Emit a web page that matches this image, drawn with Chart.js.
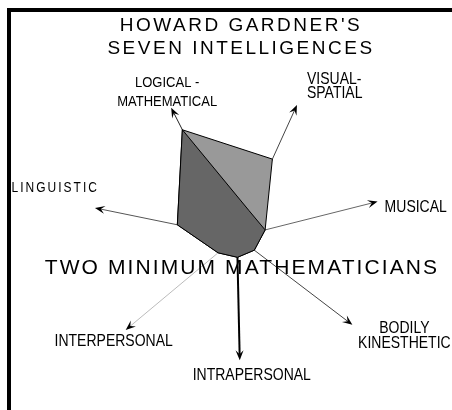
<!DOCTYPE html>
<html>
<head>
<meta charset="utf-8">
<title>Howard Gardner's Seven Intelligences</title>
<script src="https://cdn.jsdelivr.net/npm/chart.js@4.4.1/dist/chart.umd.min.js"></script>
<style>
  html, body { margin: 0; padding: 0; background: #fff; overflow: hidden; }
  .wrap { position: relative; width: 452px; height: 410px; }
  /* heavy frame line along top and left edges */
  .frame { position: absolute; left: 7px; top: 8px; width: 470px; height: 430px;
           border-top: 4px solid #000; border-left: 4px solid #000; pointer-events: none; }
</style>
</head>
<body>
<div class="wrap">
  <canvas id="chart" width="452" height="410"></canvas>
  <div class="frame"></div>
</div>
<script>
// ── Data ──
const intelligences = [
    ['LOGICAL -', 'MATHEMATICAL'],
    ['VISUAL-', 'SPATIAL'],
    ['MUSICAL'],
    ['BODILY', 'KINESTHETIC'],
    ['INTRAPERSONAL'],
    ['INTERPERSONAL'],
    ['LINGUISTIC']
];
const mathematicianA = [8.3, 2.0, 2.0, 1.5, 1.4, 1.7, 4.2];   // dark polygon
const mathematicianB = [8.3, 5.9, 2.0, 1.5, 1.4, 1.7, 4.2];   // light polygon
const titleLines = ["HOWARD GARDNER'S", 'SEVEN INTELLIGENCES'];
const subtitle = 'TWO MINIMUM MATHEMATICIANS';

const FONT = "'Liberation Sans', Arial, sans-serif";

// ── Axis arrows: one per intelligence, drawn under the polygons ──
// reach = fraction of the scale radius the arrow extends to
const axisStyle = [
    { color: '#222', width: 1, reach: 1 },
    { color: '#444', width: 1, reach: 1 },
    { color: '#666', width: 1, reach: 1 },
    { color: '#444', width: 1, reach: 1 },
    { color: '#000', width: 2, reach: 0.85 },
    { color: '#bbb', width: 1, reach: 1 },
    { color: '#555', width: 1, reach: 1 }
];

// label placement relative to the arrow tip (dy = first baseline)
const labelLayout = [
    { dx: -4, dy: -21, align: 'center', gap: 19, size: 13, spacing: 0 },
    { dx: 10, dy: -21, align: 'left',   gap: 14, size: 14, spacing: 0 },
    { dx: 7,  dy: 10,  align: 'left',   gap: 15, size: 14, spacing: 0 },
    { dx: 52, dy: 8,   align: 'center', gap: 15, size: 14, spacing: 0 },
    { dx: 12, dy: 20,  align: 'center', gap: 15, size: 14, spacing: 0 },
    { dx: -12, dy: 16, align: 'center', gap: 15, size: 14, spacing: 0 },
    { dx: 4,  dy: -16, align: 'right',  gap: 15, size: 12, spacing: 2 }
];
const LABEL_STRETCH = 1.15;   // labels in the original are a little taller than wide

function drawArrowHead(ctx, tip, angle) {
    const len = 10, half = 4, notch = 6;
    ctx.save();
    ctx.translate(tip.x, tip.y);
    ctx.rotate(angle);
    ctx.beginPath();
    ctx.moveTo(0, 0);
    ctx.lineTo(-len, -half);
    ctx.lineTo(-notch, 0);
    ctx.lineTo(-len, half);
    ctx.closePath();
    ctx.fillStyle = '#000';
    ctx.fill();
    ctx.restore();
}

const axisArrows = {
    id: 'axisArrows',
    beforeDatasetsDraw(chart) {
        const ctx = chart.ctx;
        const scale = chart.scales.r;
        intelligences.forEach((_, i) => {
            const st = axisStyle[i];
            const tip = scale.getPointPosition(i, scale.drawingArea * st.reach);
            const angle = Math.atan2(tip.y - scale.yCenter, tip.x - scale.xCenter);
            ctx.save();
            ctx.strokeStyle = st.color;
            ctx.lineWidth = st.width;
            ctx.beginPath();
            ctx.moveTo(scale.xCenter, scale.yCenter);
            ctx.lineTo(tip.x - Math.cos(angle) * 6, tip.y - Math.sin(angle) * 6);
            ctx.stroke();
            ctx.restore();
            drawArrowHead(ctx, tip, angle);
        });
    },
    afterDraw(chart) {
        const ctx = chart.ctx;
        const scale = chart.scales.r;
        ctx.save();
        ctx.fillStyle = '#000';
        ctx.textBaseline = 'alphabetic';

        // point labels next to each arrow tip
        intelligences.forEach((lines, i) => {
            const lay = labelLayout[i];
            const tip = scale.getPointPosition(i, scale.drawingArea * axisStyle[i].reach);
            ctx.font = `${lay.size}px ${FONT}`;
            ctx.letterSpacing = lay.spacing + 'px';
            ctx.textAlign = lay.align;
            lines.forEach((t, j) => {
                ctx.save();
                ctx.translate(tip.x + lay.dx, tip.y + lay.dy + j * lay.gap);
                ctx.scale(1, LABEL_STRETCH);
                ctx.fillText(t, 0, 0);
                ctx.restore();
            });
        });

        // title
        ctx.textAlign = 'center';
        ctx.font = `19px ${FONT}`;
        ctx.letterSpacing = '2.5px';
        titleLines.forEach((t, j) => ctx.fillText(t, 241, 31 + j * 22.5));

        // subtitle across the middle
        ctx.font = `21px ${FONT}`;
        ctx.letterSpacing = '2.1px';
        ctx.fillText(subtitle, 242, 274);
        ctx.restore();
    }
};

// ── Radar chart ──
new Chart(document.getElementById('chart'), {
    type: 'radar',
    data: {
        labels: intelligences,
        datasets: [
            { label: 'Mathematician A', data: mathematicianA, backgroundColor: '#666666' },
            { label: 'Mathematician B', data: mathematicianB, backgroundColor: '#999999' }
        ]
    },
    options: {
        responsive: false,
        animation: false,
        layout: { padding: { left: 92, right: 70, top: 92, bottom: 28 } },
        elements: {
            line: { borderColor: '#000', borderWidth: 1, tension: 0, fill: true },
            point: { radius: 0, hoverRadius: 0 }
        },
        plugins: { legend: { display: false }, title: { display: false }, tooltip: { enabled: false } },
        scales: {
            r: {
                min: 0,
                max: 10,
                startAngle: -27,
                ticks: { display: false },
                grid: { display: false },
                angleLines: { display: false },
                pointLabels: { display: false }
            }
        }
    },
    plugins: [axisArrows]
});
</script>
</body>
</html>
